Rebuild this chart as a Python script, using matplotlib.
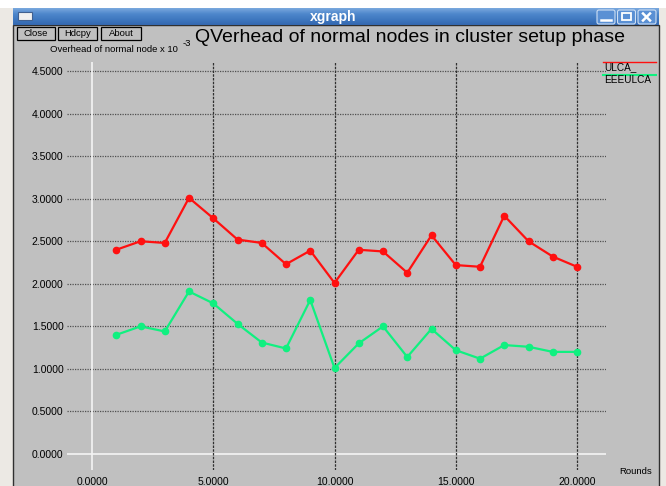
import matplotlib
matplotlib.use("Agg")
import matplotlib.pyplot as plt
from matplotlib.patches import Rectangle, FancyBboxPatch
import numpy as np

rounds = [1, 2, 3, 4, 5, 6, 7, 8, 9, 10, 11, 12, 13, 14, 15, 16, 17, 18, 19, 20]
ulca = [2.40, 2.50, 2.48, 3.01, 2.77, 2.52, 2.48, 2.23, 2.39, 2.01,
        2.40, 2.38, 2.13, 2.57, 2.22, 2.20, 2.80, 2.50, 2.32, 2.20]
eeeulca = [1.40, 1.50, 1.44, 1.91, 1.77, 1.53, 1.31, 1.24, 1.81, 1.01,
           1.30, 1.50, 1.14, 1.47, 1.22, 1.12, 1.28, 1.26, 1.20, 1.20]
series_names = ["ULCA_", "EEEULCA"]
yticks = [0.0, 0.5, 1.0, 1.5, 2.0, 2.5, 3.0, 3.5, 4.0, 4.5]
xticks = [0, 5, 10, 15, 20]
title = "QVerhead of normal nodes in cluster setup phase"
ylabel = "Overhead of normal node x 10"
xlabel = "Rounds"

W, H = 666, 486
plt.rcParams['font.family'] = ['Liberation Sans', 'DejaVu Sans']
fig = plt.figure(figsize=(W / 100, H / 100), dpi=100)
fig.patch.set_facecolor("white")

# ---- window chrome in pixel coordinates ----
bg = fig.add_axes([0, 0, 1, 1])
bg.set_xlim(0, W)
bg.set_ylim(H, 0)
bg.axis("off")
bg.set_zorder(0)

GRAY = "#c0c0c0"
# frame
bg.add_patch(Rectangle((0, 8), 666, 478, facecolor="#ece9e4", edgecolor="none"))
bg.add_patch(Rectangle((13, 25), 646, 470, facecolor=GRAY, edgecolor="#303030", lw=1))
# title bar gradient
grad = np.linspace(0, 1, 50).reshape(-1, 1)
from matplotlib.colors import LinearSegmentedColormap
cmap = LinearSegmentedColormap.from_list("tb", ["#7aa8de", "#4f88cc", "#3f78c0", "#3468b0"])
bg.imshow(grad, cmap=cmap, extent=(13, 659, 25, 8), aspect="auto", zorder=1)
bg.set_xlim(0, W)
bg.set_ylim(H, 0)
bg.text(333, 16.5, "xgraph", color="white", fontsize=10, fontweight="bold",
        ha="center", va="center", zorder=3)
# left window icon
bg.add_patch(Rectangle((18, 12), 14, 8, facecolor="#f0f0f0", edgecolor="#406090", lw=0.8, zorder=3))
# right buttons
for i, sym in enumerate(["_", "□", "✕"]):
    x0 = 597 + i * 20.5
    bg.add_patch(FancyBboxPatch((x0, 10), 18, 14, boxstyle="round,pad=0,rounding_size=2",
                                facecolor="#5a90d4", edgecolor="#cfe0f4", lw=0.8, zorder=3))
bg.plot([601, 611], [20, 20], color="white", lw=1.8, zorder=4)
bg.add_patch(Rectangle((622, 13.5), 9, 7, facecolor="none", edgecolor="white", lw=1.3, zorder=4))
bg.plot([643, 650], [13.5, 20.5], color="white", lw=1.8, zorder=4)
bg.plot([643, 650], [20.5, 13.5], color="white", lw=1.8, zorder=4)

# buttons
for label, x0, x1 in [("Close", 17, 55), ("Hdcpy", 58, 97), ("About", 101, 141)]:
    bg.add_patch(Rectangle((x0, 27), x1 - x0, 13, facecolor=GRAY, edgecolor="black", lw=0.9, zorder=3))
    bg.text((x0 + x1) / 2, 33.5, label, fontsize=6.8, ha="center", va="center", zorder=4)

# titles
bg.text(195, 38, title, fontsize=14, ha="left", va="center", zorder=4)
bg.text(50, 50, ylabel, fontsize=6.8, ha="left", va="center", zorder=4)
bg.text(183, 43, "-3", fontsize=6.8, ha="left", va="center", zorder=4)
bg.text(619, 471, xlabel, fontsize=6.8, ha="left", va="center", zorder=4)

# legend
colors = ["#ff1010", "#10f080"]
bg.plot([603, 656], [62, 62], color=colors[0], lw=1.0, zorder=4)
bg.text(604, 67, series_names[0], fontsize=7.2, ha="left", va="center", zorder=4)
bg.plot([603, 656], [75, 75], color=colors[1], lw=1.5, zorder=4)
bg.text(604, 80, series_names[1], fontsize=7.2, ha="left", va="center", zorder=4)

# ---- data axes ----
L, R, T, B = 67, 606, 62, 470
x0p, xs = 92.0, 24.25
y0p, ys = 454.0, 85.1
ax = fig.add_axes([L / W, 1 - B / H, (R - L) / W, (B - T) / H])
ax.set_zorder(2)
ax.patch.set_alpha(0)
ax.set_xlim((L - x0p) / xs, (R - x0p) / xs)
ax.set_ylim((y0p - B) / ys, (y0p - T) / ys)
for s in ax.spines.values():
    s.set_visible(False)

for yv in yticks:
    if yv == 0:
        ax.axhline(yv, color="#f4f4f4", lw=1.2, zorder=1)
    else:
        ax.axhline(yv, color="#505050", lw=0.9, ls=(0, (1, 1)), zorder=1)
for xv in xticks:
    if xv == 0:
        ax.axvline(xv, color="#f4f4f4", lw=1.2, zorder=1)
    else:
        ax.axvline(xv, color="#303030", lw=0.9, ls=(0, (2, 1)), zorder=1)

ax.plot(rounds, ulca, color=colors[0], lw=1.6, marker="o", ms=4.5, zorder=3)
ax.plot(rounds, eeeulca, color=colors[1], lw=1.6, marker="o", ms=4.5, zorder=3)

ax.set_yticks(yticks)
ax.set_yticklabels(["%.4f" % v for v in yticks], fontsize=7.5)
ax.set_xticks(xticks)
ax.set_xticklabels(["%.4f" % v for v in xticks], fontsize=7.5)
ax.tick_params(length=0, pad=2.5)
ax.tick_params(axis="x", pad=5)

fig.savefig("out.png", dpi=100)
